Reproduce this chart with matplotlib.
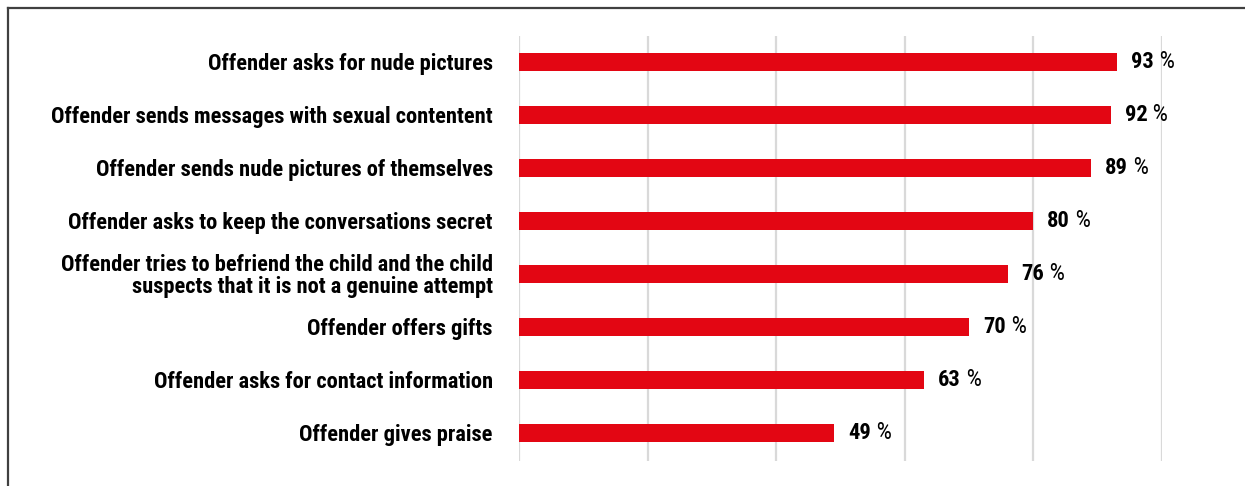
import matplotlib.pyplot as plt
from matplotlib.lines import Line2D

labels = [
    "Offender asks for nude pictures",
    "Offender sends messages with sexual contentent",
    "Offender sends nude pictures of themselves",
    "Offender asks to keep the conversations secret",
    "Offender tries to befriend the child and the child\nsuspects that it is not a genuine attempt",
    "Offender offers gifts",
    "Offender asks for contact information",
    "Offender gives praise",
]
values = [93, 92, 89, 80, 76, 70, 63, 49]
ticks = [0, 20, 40, 60, 80, 100]

RED = "#e30613"
FONT = ["Roboto Condensed", "Barlow Condensed", "DejaVu Sans"]

fig = plt.figure(figsize=(12.45, 4.86), dpi=100)
ax = fig.add_axes([0.4169, 0.0514, 0.5165, 0.8745])

pos = list(range(len(values)))
ax.barh(pos, values, height=0.34, color=RED, zorder=3)

ax.set_xlim(0, 100)
ax.set_ylim(len(values) - 0.47, -0.49)
ax.set_xticks(ticks)
ax.grid(axis="x", color="#d9d9d9", linewidth=1.6, zorder=0)
ax.tick_params(axis="x", length=0, labelbottom=False)
ax.tick_params(axis="y", length=0, pad=19)
ax.set_yticks(pos)
ax.set_yticklabels(labels, family=FONT, fontweight="bold", fontsize=16.2,
                   linespacing=0.95)
for s in ax.spines.values():
    s.set_visible(False)

# value labels: bold number followed by a regular percent sign
for y, v in zip(pos, values):
    num = ax.annotate(str(v), xy=(v, y), xytext=(10, 0), textcoords="offset points",
                      ha="left", va="center", family=FONT, fontweight="bold",
                      fontsize=16.2)
    ax.annotate(" %", xy=(1, 0.5), xycoords=num, ha="left", va="center",
                family=FONT, fontsize=17.5)

# frame (top and left edges)
fig.add_artist(Line2D([8 / 1245, 1], [1 - 8 / 486, 1 - 8 / 486],
                      color="#404040", linewidth=1.6))
fig.add_artist(Line2D([8 / 1245, 8 / 1245], [0, 1 - 8 / 486],
                      color="#404040", linewidth=1.6))

fig.savefig("out.png", dpi=100)
